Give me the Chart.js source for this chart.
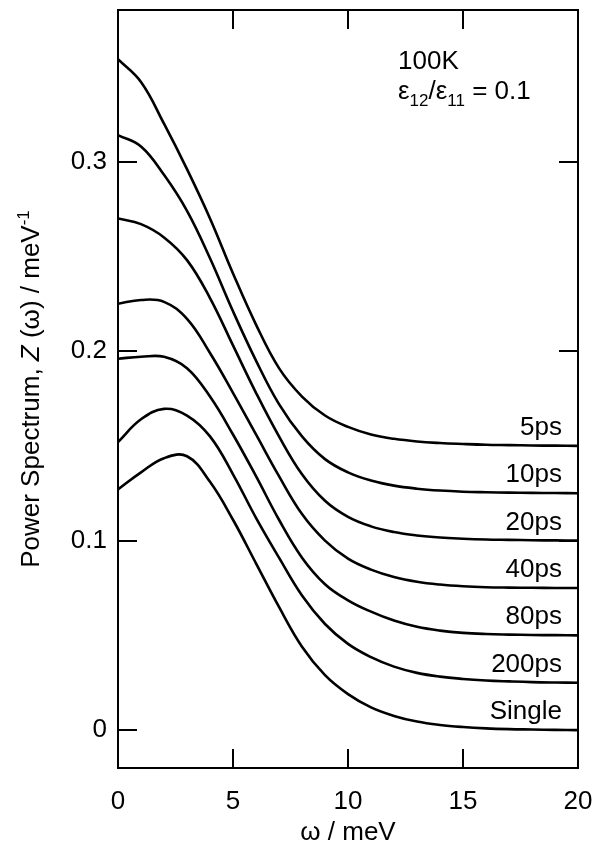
<!DOCTYPE html>
<html>
<head>
<meta charset="utf-8">
<title>Power Spectrum</title>
<script src="https://cdn.jsdelivr.net/npm/chart.js@4.4.0/dist/chart.umd.min.js"></script>
<style>
  html, body { margin: 0; padding: 0; background: #fff; }
  canvas { display: block; }
</style>
</head>
<body>
<canvas id="graficaEspectro" width="600" height="843"></canvas>
<script>
// --- Datos (omega en meV, Z en meV^-1) ---
const omega = [0, 1, 2, 3, 4, 5, 6, 7, 8, 9, 10, 11, 12, 13, 14, 15, 16, 17, 18, 19, 20];
const serie5ps = [0.354, 0.342, 0.320, 0.296, 0.270, 0.241, 0.214, 0.191, 0.176, 0.166, 0.160, 0.156, 0.1537, 0.1523, 0.1515, 0.151, 0.1506, 0.1504, 0.1502, 0.1501, 0.150];
const serie10ps = [0.314, 0.308, 0.293, 0.274, 0.249, 0.221, 0.195, 0.172, 0.155, 0.143, 0.136, 0.1317, 0.129, 0.1274, 0.1264, 0.1258, 0.1255, 0.1253, 0.1252, 0.1251, 0.125];
const serie20ps = [0.270, 0.267, 0.260, 0.248, 0.228, 0.203, 0.178, 0.155, 0.135, 0.121, 0.1125, 0.1075, 0.1045, 0.1027, 0.1016, 0.101, 0.1006, 0.1004, 0.1002, 0.1001, 0.100];
const serie40ps = [0.225, 0.227, 0.226, 0.217, 0.199, 0.178, 0.156, 0.134, 0.114, 0.100, 0.0905, 0.0847, 0.0808, 0.0783, 0.0768, 0.0759, 0.0754, 0.0752, 0.0751, 0.0750, 0.075];
const serie80ps = [0.196, 0.197, 0.197, 0.191, 0.176, 0.156, 0.134, 0.111, 0.091, 0.077, 0.0685, 0.0625, 0.0578, 0.0545, 0.0525, 0.0513, 0.0507, 0.0504, 0.0502, 0.0501, 0.050];
const serie200ps = [0.152, 0.164, 0.1695, 0.166, 0.155, 0.135, 0.112, 0.091, 0.071, 0.056, 0.0455, 0.0385, 0.0335, 0.0302, 0.0282, 0.027, 0.0262, 0.0257, 0.0253, 0.0251, 0.025];
const serieSingle = [0.127, 0.136, 0.1435, 0.1445, 0.131, 0.111, 0.088, 0.065, 0.044, 0.029, 0.019, 0.012, 0.0075, 0.0045, 0.0027, 0.0016, 0.0009, 0.0005, 0.0003, 0.0001, 0];

const etiquetas = ['5ps', '10ps', '20ps', '40ps', '80ps', '200ps', 'Single'];
const series = [serie5ps, serie10ps, serie20ps, serie40ps, serie80ps, serie200ps, serieSingle];
const ticksX = [0, 5, 10, 15, 20];
const ticksY = [0, 0.1, 0.2, 0.3];

const FUENTE = '"Liberation Sans", Arial, Helvetica, sans-serif';

// Dibuja texto con partes (normal, cursiva, sub/superindice) seguidas
function textoCompuesto(ctx, partes, x, y) {
    let cx = x;
    partes.forEach(p => {
        ctx.font = (p.italica ? 'italic ' : '') + p.tam + 'px ' + FUENTE;
        ctx.fillText(p.t, cx, y + (p.dy || 0));
        cx += ctx.measureText(p.t).width;
    });
    return cx - x;
}

function anchoCompuesto(ctx, partes) {
    let w = 0;
    partes.forEach(p => {
        ctx.font = (p.italica ? 'italic ' : '') + p.tam + 'px ' + FUENTE;
        w += ctx.measureText(p.t).width;
    });
    return w;
}

// Plugin: marco, ticks hacia dentro, titulos y rotulos
const marcoYTextos = {
    id: 'marcoYTextos',
    beforeDraw(chart) {
        const ctx = chart.ctx;
        ctx.save();
        ctx.fillStyle = '#fff';
        ctx.fillRect(0, 0, chart.width, chart.height);
        ctx.restore();
    },
    afterDraw(chart) {
        const ctx = chart.ctx;
        const a = chart.chartArea;
        const x = chart.scales.x;
        const y = chart.scales.y;
        const largo = 19;

        ctx.save();
        ctx.strokeStyle = '#000';
        ctx.lineWidth = 2;
        ctx.strokeRect(a.left, a.top, a.right - a.left, a.bottom - a.top);

        ctx.beginPath();
        ticksX.slice(1, -1).forEach(v => {
            const px = Math.round(x.getPixelForValue(v));
            ctx.moveTo(px, a.bottom); ctx.lineTo(px, a.bottom - largo);
            ctx.moveTo(px, a.top); ctx.lineTo(px, a.top + largo);
        });
        ticksY.forEach(v => {
            const py = Math.round(y.getPixelForValue(v));
            ctx.moveTo(a.left, py); ctx.lineTo(a.left + largo, py);
            ctx.moveTo(a.right, py); ctx.lineTo(a.right - largo, py);
        });
        ctx.stroke();

        // Rotulos de cada curva, a la derecha
        ctx.fillStyle = '#000';
        ctx.textAlign = 'right';
        ctx.textBaseline = 'alphabetic';
        ctx.font = '26px ' + FUENTE;
        series.forEach((s, i) => {
            const py = y.getPixelForValue(s[s.length - 1]);
            ctx.fillText(etiquetas[i], x.getPixelForValue(20) - 16, py - 11);
        });

        // Anotacion arriba a la derecha
        ctx.textAlign = 'left';
        ctx.font = '26px ' + FUENTE;
        ctx.fillText('100K', 398, 69);
        textoCompuesto(ctx, [
            { t: 'ε', tam: 26 },
            { t: '12', tam: 17, dy: 7 },
            { t: '/ε', tam: 26 },
            { t: '11', tam: 17, dy: 7 },
            { t: ' = 0.1', tam: 26 }
        ], 398, 99);

        // Titulo eje X
        ctx.textAlign = 'center';
        ctx.font = '26px ' + FUENTE;
        ctx.fillText('ω / meV', (a.left + a.right) / 2, 840);

        // Titulo eje Y (girado, con Z en cursiva y superindice)
        const partesY = [
            { t: 'Power Spectrum, ', tam: 26 },
            { t: 'Z', tam: 26, italica: true },
            { t: ' (ω) / meV', tam: 26 },
            { t: '-1', tam: 17, dy: -10 }
        ];
        ctx.translate(39, (a.top + a.bottom) / 2);
        ctx.rotate(-Math.PI / 2);
        ctx.textAlign = 'left';
        const w = anchoCompuesto(ctx, partesY);
        textoCompuesto(ctx, partesY, -w / 2, 0);
        ctx.restore();
    }
};

function inicializarGrafica() {
    const canvas = document.getElementById('graficaEspectro');
    const ctx = canvas.getContext('2d');

    const datasets = series.map((s, i) => ({
        label: etiquetas[i],
        data: omega.map((w, k) => ({ x: w, y: s[k] })),
        borderColor: '#000',
        borderWidth: 2.6,
        pointRadius: 0,
        tension: 0.4,
        fill: false
    }));

    new Chart(ctx, {
        type: 'line',
        data: { datasets: datasets },
        options: {
            responsive: false,
            animation: false,
            layout: { padding: { top: 10, right: 22, left: 0, bottom: 0 } },
            plugins: {
                legend: { display: false },
                tooltip: { enabled: false }
            },
            scales: {
                x: {
                    type: 'linear',
                    min: 0,
                    max: 20,
                    afterBuildTicks: s => { s.ticks = ticksX.map(v => ({ value: v })); },
                    afterFit: s => { s.height = 75; s.paddingLeft = 0; s.paddingRight = 0; },
                    grid: { display: false, drawTicks: false },
                    border: { display: false },
                    ticks: {
                        color: '#000',
                        padding: 18,
                        maxRotation: 0,
                        font: { family: FUENTE, size: 26 },
                        callback: v => String(v)
                    }
                },
                y: {
                    type: 'linear',
                    min: -0.02,
                    max: 0.38,
                    afterBuildTicks: s => { s.ticks = ticksY.map(v => ({ value: v })); },
                    afterFit: s => { s.width = 118; s.paddingTop = 0; s.paddingBottom = 0; },
                    grid: { display: false, drawTicks: false },
                    border: { display: false },
                    ticks: {
                        color: '#000',
                        padding: 11,
                        font: { family: FUENTE, size: 26 },
                        callback: v => String(v)
                    }
                }
            }
        },
        plugins: [marcoYTextos]
    });
}

document.addEventListener('DOMContentLoaded', function() {
    inicializarGrafica();
});
</script>
</body>
</html>
